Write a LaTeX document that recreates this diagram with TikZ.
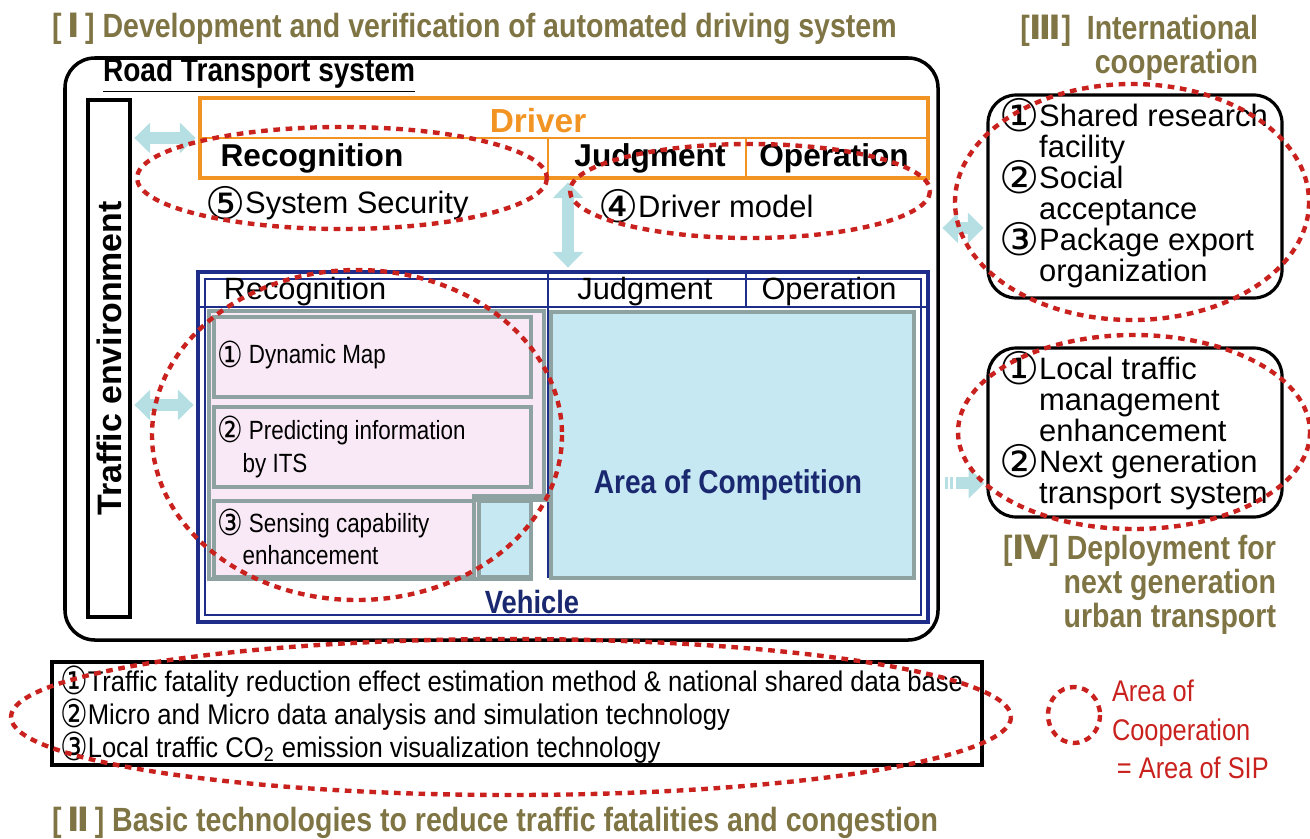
\documentclass[tikz,border=0pt]{standalone}
\usepackage{fontspec}
\usepackage{graphicx}
\setmainfont{Liberation Sans}
\newfontfamily\narrowfont[FakeStretch=0.85]{Liberation Sans}
\newfontfamily\basefont[FakeStretch=0.9]{Liberation Sans}
\newfontfamily\circfont{DejaVu Sans}
\newfontfamily\circnarrowfont[FakeStretch=0.8]{DejaVu Sans}
\usepackage{tikz}
\usetikzlibrary{arrows.meta,positioning,fit,calc}
\definecolor{sipolive}{HTML}{7F7444}
\definecolor{drvorange}{HTML}{F29423}
\definecolor{vehnavy}{HTML}{1F2D8A}
\definecolor{textnavy}{HTML}{1A2870}
\definecolor{framegrey}{HTML}{8EA2A2}
\definecolor{cellpink}{HTML}{F9E8F5}
\definecolor{cellblue}{HTML}{C6E8F3}
\definecolor{arrowblue}{HTML}{B5DFE3}
\definecolor{coopred}{HTML}{C9221E}

\newcommand{\cnum}[1]{\raisebox{-0.17em}[0pt][0pt]{\scalebox{1.45}{\circfont #1}}}
\newcommand{\cnumn}[1]{\raisebox{-0.13em}[0pt][0pt]{\scalebox{1.36}{\circnarrowfont #1}}}
\newcommand{\fsz}[2]{\fontsize{#1}{#2}\selectfont}

\begin{document}
\begin{tikzpicture}[
  x=0.02cm, y=-0.02cm,
  every node/.style={inner sep=0pt, outer sep=0pt},
  heading/.style={font=\narrowfont\bfseries\fsz{19.1}{19.4}, text=sipolive},
  sysbox/.style={draw, line width=2pt, rounded corners=17pt},
  plainbox/.style={draw, line width=2.2pt},
  itembox/.style={draw, line width=1.8pt, rounded corners=16pt},
  drvbox/.style={draw=drvorange, line width=2.6pt},
  vehbox/.style={draw=vehnavy, line width=2.6pt},
  cell/.style={draw=framegrey, line width=2.2pt, fill=cellpink},
  compcell/.style={draw=framegrey, line width=2.2pt, fill=cellblue},
  coop/.style={draw=coopred, line width=2.5pt, dash pattern=on 3.8pt off 3.2pt},
  fatarrow/.style={draw=arrowblue, line width=6.5pt, shorten <=2.5pt, shorten >=2.5pt,
    {Triangle[length=9pt,width=17pt]}-{Triangle[length=9pt,width=17pt]}},
  onearrow/.style={draw=arrowblue, line width=6.5pt, shorten >=2pt,
    -{Triangle[length=9pt,width=17pt]}},
  drvhead/.style={font=\bfseries\fsz{18}{20}},
  vehhead/.style={font=\fsz{17.5}{20}},
  pinktext/.style={font=\narrowfont\fsz{15}{18.6}, align=left},
  itemtext/.style={font=\fsz{17.6}{17.6}, align=left},
  basetext/.style={font=\basefont\fsz{16.2}{18.8}, anchor=base west}
]
\useasboundingbox (0,0) rectangle (1310,838);

% Headings
\node[heading, anchor=base west] (tI) at (52,38)
  {[\,{\circfont Ⅰ}\,] Development and verification of automated driving system};
\node[heading, anchor=base west] (tII) at (52,831)
  {[\,{\circfont Ⅱ}\,] Basic technologies to reduce traffic fatalities and congestion};
\node[heading, anchor=north east, align=right] (tIII) at (1258,15)
  {[{\circfont Ⅲ}] \ International\\cooperation};
\node[heading, anchor=north east, align=right] (tIV) at (1276,535)
  {[{\circfont Ⅳ}] Deployment for\\next generation\\urban transport};

% Road transport system
\node[sysbox, fit={(65,58) (938,640)}, inner sep=0pt] (rts) {};
\node[font=\narrowfont\bfseries\fsz{18.8}{20}, anchor=base west] (rtslbl) at (103,82)
  {\underline{Road Transport system}};

% Traffic environment
\node[plainbox, fit={(88,100) (130,617)}, inner sep=0pt] (tenv) {};
\node[font=\bfseries\fsz{19.3}{20}, rotate=90] (tenvlbl) at (tenv.center) {Traffic environment};

% Driver table
\node[drvbox, fit={(200,98) (928,178)}, inner sep=0pt] (driver) {};
\draw[drvorange, line width=1.2pt] (200,138) -- (928,138);
\draw[drvorange, line width=1pt] (548,138) -- (548,178);
\draw[drvorange, line width=1pt] (746,138) -- (746,178);
\node[font=\bfseries\fsz{19}{20}, text=drvorange] (drvlbl) at (538,121) {Driver};
\node[drvhead] (drec) at (312,158) {Recognition};
\node[drvhead] (djudge) at (650,158) {Judgment};
\node[drvhead] (doper) at (834,158) {Operation};

\node[font=\fsz{17.6}{20}, anchor=west] (security) at (205,206) {\cnum{⑤}System Security};
\node[font=\fsz{17.6}{20}, anchor=west] (drvmodel) at (598,206) {\cnum{④}Driver model};

% Vehicle table
\node[vehbox, fit={(198,272) (928,622)}, inner sep=0pt] (vehicle) {};
\draw[vehnavy, line width=0.6pt] (205,279) rectangle (921,615);
\draw[vehnavy, line width=1.2pt] (198,307) -- (928,307);
\draw[vehnavy, line width=1pt] (548,272) -- (548,578);
\draw[vehnavy, line width=1pt] (746,272) -- (746,307);
\node[vehhead] (vrec) at (305,292) {Recognition};
\node[vehhead] (vjudge) at (645,292) {Judgment};
\node[vehhead] (voper) at (829,292) {Operation};

% Recognition cells
\draw[cell] (209,311) -- (544,311) -- (544,497) -- (531,497) -- (531,579) -- (209,579) -- cycle;
\node[cell, fit={(214,317) (531,397)}, inner sep=0pt] (dmapbox) {};
\node[cell, fit={(214,407) (531,487)}, inner sep=0pt] (itsbox) {};
\node[cell, fit={(214,501) (474,577)}, inner sep=0pt] (sensebox) {};
\node[compcell, fit={(479,501) (531,577)}, inner sep=0pt] (gapcell) {};
\fill[framegrey] (472,494) rectangle (550,502);
\node[compcell, fit={(551,312) (914,578)}, inner sep=0pt] (comp) {};

\node[pinktext, anchor=west] (dmap) at (217,357) {\cnumn{①} Dynamic Map};
\node[pinktext, anchor=west] (its) at (217,449)
  {\cnumn{②} Predicting information\\\hphantom{\cnumn{②}}by ITS};
\node[pinktext, anchor=west] (sense) at (217,539)
  {\cnumn{③} Sensing capability\\\hphantom{\cnumn{③}}enhancement};
\node[font=\narrowfont\bfseries\fsz{18.8}{20}, text=textnavy] (complbl) at (728,485) {Area of Competition};
\node[font=\narrowfont\bfseries\fsz{18.3}{20}, text=textnavy] (vehlbl) at (532,602) {Vehicle};

% International cooperation
\node[itembox, fit={(988,95) (1282,298)}, inner sep=0pt] (intl) {};
\node[itemtext, anchor=north west] (intltxt) at (999,104)
  {\cnum{①}Shared research\\\hphantom{\cnum{①}}facility\\
   \cnum{②}Social\\\hphantom{\cnum{②}}acceptance\\
   \cnum{③}Package export\\\hphantom{\cnum{③}}organization};

% Deployment
\node[itembox, fit={(988,348) (1282,517)}, inner sep=0pt] (deploy) {};
\node[itemtext, anchor=north west] (deptxt) at (999,357)
  {\cnum{①}Local traffic\\\hphantom{\cnum{①}}management\\\hphantom{\cnum{①}}enhancement\\
   \cnum{②}Next generation\\\hphantom{\cnum{②}}transport system};

% Basic technologies
\node[plainbox, fit={(52,662) (982,765)}, inner sep=0pt] (basic) {};
\node[basetext] (fatal) at (60,691)
  {\cnumn{①}Traffic fatality reduction effect estimation method \& national shared data base};
\node[basetext] (micro) at (60,724)
  {\cnumn{②}Micro and Micro data analysis and simulation technology};
\node[basetext] (cotwo) at (60,757)
  {\cnumn{③}Local traffic CO\textsubscript{2} emission visualization technology};

% Arrows
\coordinate (vin) at (198,405);
\coordinate (dvx) at (568,0);
\coordinate (iin) at (988,228);
\coordinate (din) at (988,483);
\draw[fatarrow] (driver.west -| tenv.east) -- (driver.west);
\draw[fatarrow] (vin -| tenv.east) -- (vin);
\draw[fatarrow] (driver.south -| dvx) -- (vehicle.north -| dvx);
\draw[fatarrow] (iin -| rts.east) -- (iin);
\draw[onearrow] ($(din)+(-32,0)$) -- (din);
\fill[arrowblue] (945,477) rectangle (948,489);
\fill[arrowblue] (950,477) rectangle (953,489);

% Areas of cooperation
\draw[coop] (342,178) ellipse [x radius=205, y radius=51];
\draw[coop] (750,191) ellipse [x radius=180, y radius=47];
\draw[coop] (357,435) ellipse [x radius=205, y radius=165];
\draw[coop] (1132,202) ellipse [x radius=177, y radius=118];
\draw[coop] (1134,432) ellipse [x radius=176, y radius=97];
\draw[coop] (511,717) ellipse [x radius=500, y radius=78];

% Legend
\draw[coop] (1074,715) ellipse [x radius=26, y radius=28];
\node[font=\narrowfont\fsz{17}{22}, text=coopred, align=left, anchor=north west] (legend) at (1112,680)
  {Area of\\Cooperation\\\,= Area of SIP};

\end{tikzpicture}
\end{document}
